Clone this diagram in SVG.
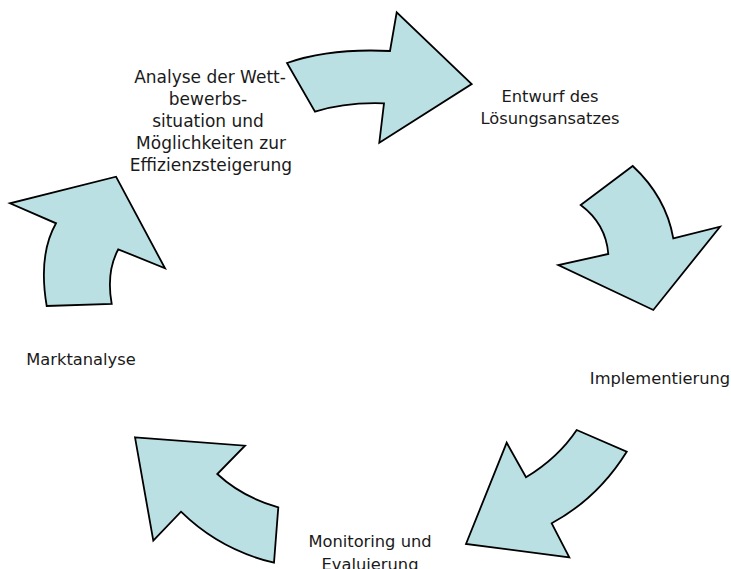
<svg xmlns="http://www.w3.org/2000/svg" width="731" height="569" viewBox="0 0 731 569">
<style>
.arr{fill:#bae0e3;stroke:#000;stroke-width:1.8;stroke-linejoin:miter}
.lbl{font-family:"DejaVu Sans","Verdana",sans-serif;font-size:16.3px;fill:#1a1a1a;text-anchor:middle}
.big{font-size:17px}
</style>
<rect width="731" height="569" fill="#fff"/>
<g id="connectors">
<path id="arrow1" class="arr" d="M287,63 Q330,48 390,51 L396.7,12.3 L471.7,84 L379.3,142.7 L384,103.3 Q345,102 315,111.7 Z"/>
<path id="arrow2" class="arr" d="M632.7,166 Q666,197 673.3,238.3 L720,226.7 L653.3,310 L558.3,265 L608.3,254 Q606,224 580.7,205 Z"/>
<path id="arrow3" class="arr" d="M576.7,430 L626.7,451.7 Q598,498 551.7,523.3 L569.3,557.3 L466,544 L506.7,442.7 L526,477.3 Q558,458 576.7,430 Z"/>
<path id="arrow4" class="arr" d="M135,437.3 L245,445.7 L217.3,474 Q242,497 278.3,507.3 L274,562.7 Q220,550 181,511.7 L153.3,540.7 Z"/>
<path id="arrow5" class="arr" d="M116,176.7 L165,268.3 L118.3,249.3 Q106,272 111.7,304 L46.7,306 Q38,255 56,223.3 L10,203.3 Z"/>
</g>
<g id="node-analyse">
<text class="lbl big" x="210" y="83">Analyse der Wett-</text>
<text class="lbl big" x="208" y="105">bewerbs-</text>
<text class="lbl big" x="208" y="127">situation und</text>
<text class="lbl big" x="211" y="149">Möglichkeiten zur</text>
<text class="lbl big" x="211" y="171">Effizienzsteigerung</text>
</g>
<g id="node-entwurf">
<text class="lbl" x="550" y="101.5">Entwurf des</text>
<text class="lbl" x="550" y="123.5">Lösungsansatzes</text>
</g>
<g id="node-implementierung">
<text class="lbl" x="660" y="384">Implementierung</text>
</g>
<g id="node-monitoring">
<text class="lbl" x="370" y="547">Monitoring und</text>
<text class="lbl" x="370" y="570">Evaluierung</text>
</g>
<g id="node-marktanalyse">
<text class="lbl" x="81" y="365">Marktanalyse</text>
</g>
</svg>
